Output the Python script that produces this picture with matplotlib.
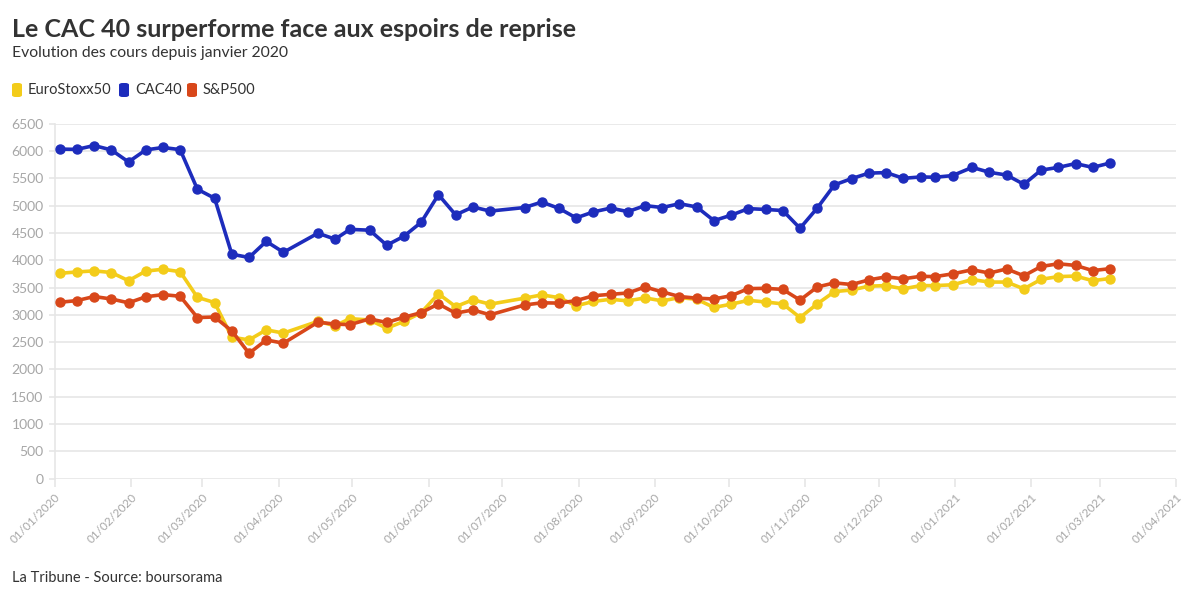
import matplotlib.pyplot as plt
import matplotlib.dates as mdates
from matplotlib.patches import FancyBboxPatch
import pandas as pd

plt.rcParams['font.family'] = ['Lato', 'DejaVu Sans']

dates = [
    "2020-01-03", "2020-01-10", "2020-01-17", "2020-01-24", "2020-01-31",
    "2020-02-07", "2020-02-14", "2020-02-21", "2020-02-28", "2020-03-06",
    "2020-03-13", "2020-03-20", "2020-03-27", "2020-04-03", "2020-04-17",
    "2020-04-24", "2020-04-30", "2020-05-08", "2020-05-15", "2020-05-22",
    "2020-05-29", "2020-06-05", "2020-06-12", "2020-06-19", "2020-06-26",
    "2020-07-10", "2020-07-17", "2020-07-24", "2020-07-31", "2020-08-07",
    "2020-08-14", "2020-08-21", "2020-08-28", "2020-09-04", "2020-09-11",
    "2020-09-18", "2020-09-25", "2020-10-02", "2020-10-09", "2020-10-16",
    "2020-10-23", "2020-10-30", "2020-11-06", "2020-11-13", "2020-11-20",
    "2020-11-27", "2020-12-04", "2020-12-11", "2020-12-18", "2020-12-24",
    "2020-12-31", "2021-01-08", "2021-01-15", "2021-01-22", "2021-01-29",
    "2021-02-05", "2021-02-12", "2021-02-19", "2021-02-26", "2021-03-05",
]

eurostoxx = [
    3760, 3785, 3805, 3775, 3625, 3800, 3835, 3790, 3320, 3225,
    2590, 2540, 2725, 2665, 2880, 2800, 2930, 2905, 2755, 2880,
    3040, 3385, 3150, 3275, 3195, 3305, 3365, 3315, 3165, 3245,
    3285, 3255, 3310, 3255, 3315, 3285, 3135, 3195, 3265, 3235,
    3200, 2950, 3200, 3425, 3455, 3525, 3535, 3475, 3535, 3535,
    3550, 3645, 3600, 3600, 3475, 3650, 3700, 3710, 3625, 3665,
]

cac40 = [
    6035, 6030, 6100, 6020, 5800, 6020, 6065, 6025, 5300, 5135,
    4110, 4050, 4345, 4145, 4495, 4385, 4565, 4550, 4275, 4440,
    4695, 5200, 4830, 4975, 4900, 4965, 5065, 4950, 4775, 4885,
    4955, 4890, 5000, 4965, 5035, 4975, 4725, 4825, 4945, 4930,
    4910, 4585, 4955, 5380, 5495, 5595, 5605, 5500, 5525, 5520,
    5550, 5700, 5610, 5560, 5390, 5650, 5700, 5770, 5700, 5780,
]

sp500 = [
    3230, 3260, 3335, 3290, 3220, 3330, 3370, 3340, 2950, 2960,
    2705, 2295, 2540, 2480, 2865, 2830, 2820, 2925, 2860, 2955,
    3040, 3200, 3030, 3090, 3000, 3180, 3220, 3215, 3260, 3350,
    3375, 3400, 3510, 3420, 3335, 3305, 3290, 3350, 3480, 3485,
    3465, 3270, 3510, 3585, 3555, 3640, 3695, 3660, 3705, 3700,
    3750, 3825, 3765, 3840, 3715, 3885, 3935, 3905, 3810, 3845,
]

series_names = ["EuroStoxx50", "CAC40", "S&P500"]
colors = ["#f3cc1a", "#1d2cbc", "#d8471a"]

dt = pd.to_datetime(dates)

fig = plt.figure(figsize=(12, 6), dpi=100)
ax = fig.add_axes([0.0456, 0.2023, 0.9347, 0.5915])

grid_col = "#e6e6e6"
for vals, col, z in [(eurostoxx, colors[0], 3), (cac40, colors[1], 4), (sp500, colors[2], 5)]:
    ax.plot(dt, vals, color=col, lw=2.6, marker="o", ms=6.5, mec=col,
            solid_joinstyle="round", zorder=z, clip_on=False)

ax.set_xlim(pd.Timestamp("2020-01-01"), pd.Timestamp("2021-04-01"))
ax.set_ylim(0, 6500)
ax.set_yticks(range(0, 6501, 500))
ax.xaxis.set_major_locator(mdates.MonthLocator())
ax.xaxis.set_major_formatter(mdates.DateFormatter("%d/%m/%Y"))

ax.grid(axis="y", color=grid_col, lw=1.2)
ax.set_axisbelow(True)
for s in ["top", "right", "bottom"]:
    ax.spines[s].set_visible(False)
ax.spines["left"].set_color(grid_col)
ax.spines["left"].set_linewidth(1.2)

ax.tick_params(axis="y", length=4, color=grid_col, width=1.2, pad=4,
               labelsize=10, labelcolor="#a6a6a6")
ax.tick_params(axis="x", length=6, color=grid_col, width=1.2, pad=3,
               labelsize=8.5, labelcolor="#a6a6a6")
for lab in ax.get_xticklabels():
    lab.set_rotation(45)
    lab.set_ha("right")
    lab.set_va("top")
    lab.set_rotation_mode("anchor")

# titles
fig.text(0.01, 0.951, "Le CAC 40 surperforme face aux espoirs de reprise",
         fontsize=18, fontweight="bold", color="#333333", va="center")
fig.text(0.01, 0.912, "Evolution des cours depuis janvier 2020",
         fontsize=11.3, color="#333333", va="center")

# legend
leg_x = [12, 119, 187]
for x, name, col in zip(leg_x, series_names, colors):
    fig.patches.append(FancyBboxPatch((x / 1200, 1 - 97 / 600), 10 / 1200, 14 / 600,
                                      boxstyle="round,pad=0,rounding_size=0.003",
                                      transform=fig.transFigure, fc=col, ec="none"))
    fig.text((x + 16) / 1200, 1 - 90 / 600, name, fontsize=10.5,
             color="#333333", va="center")

fig.text(0.01, 1 - 578 / 600, "La Tribune - Source: boursorama",
         fontsize=10.5, color="#333333", va="center")

fig.savefig("out.png", dpi=100)
